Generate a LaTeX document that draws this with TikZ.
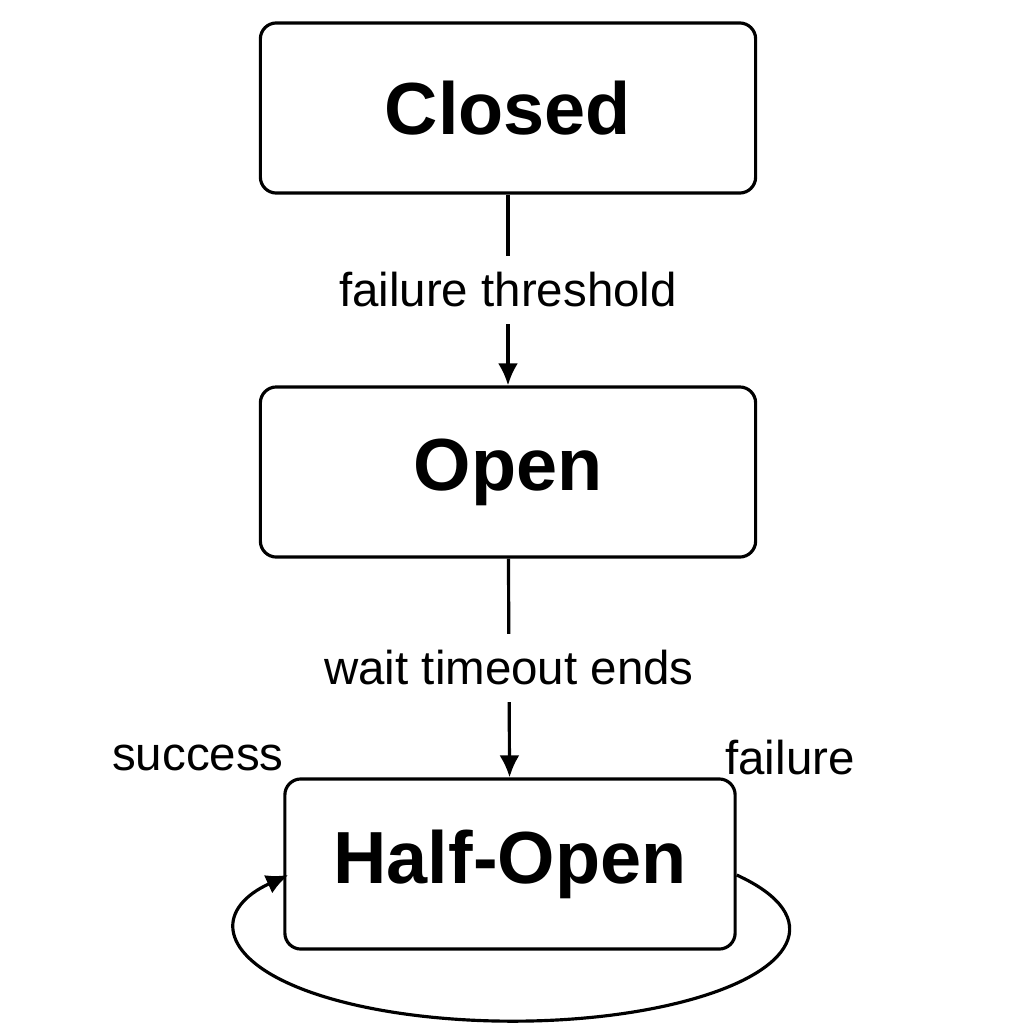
\documentclass[tikz,border=0pt]{standalone}
\usepackage{fontspec}
\setmainfont{Liberation Sans}
\usepackage{tikz}
\usetikzlibrary{arrows.meta,positioning}

\begin{document}
\begin{tikzpicture}[
	x=0.01cm, y=-0.01cm,
	statebox/.style={font=\fontsize{21}{25}\selectfont\bfseries, draw, line width=0.9pt, rounded corners=0.16cm, minimum width=4.95cm, minimum height=1.7cm, inner sep=0, align=center},
	translabel/.style={font=\fontsize{13.5}{16}\selectfont, fill=white, inner sep=0.17cm},
	arr/.style={-{Latex[length=0.22cm,width=0.2cm]}, line width=0.9pt}
]
\useasboundingbox (0,0) rectangle (1024,1024);

\node[statebox] (closed) at (508, 108) {Closed};
\node[statebox] (open) at (508, 472) {Open};
\node[statebox, minimum width=4.5cm] (hopen) at (510, 864) {Half-Open};

\draw[arr] (closed) -- node[translabel] {failure threshold} (open);
\draw[arr] (open) -- node[translabel] {wait timeout ends} (hopen);

\node[font=\fontsize{13.5}{16}\selectfont] (succ) at (198, 758) {success};
\node[font=\fontsize{13.5}{16}\selectfont] (fail) at (790, 758) {failure};

% self loop round the bottom
\draw[arr] ([yshift=-0.11cm]hopen.east) arc[start angle=36, end angle=-216, x radius=2.77cm, y radius=0.92cm];
\end{tikzpicture}
\end{document}
